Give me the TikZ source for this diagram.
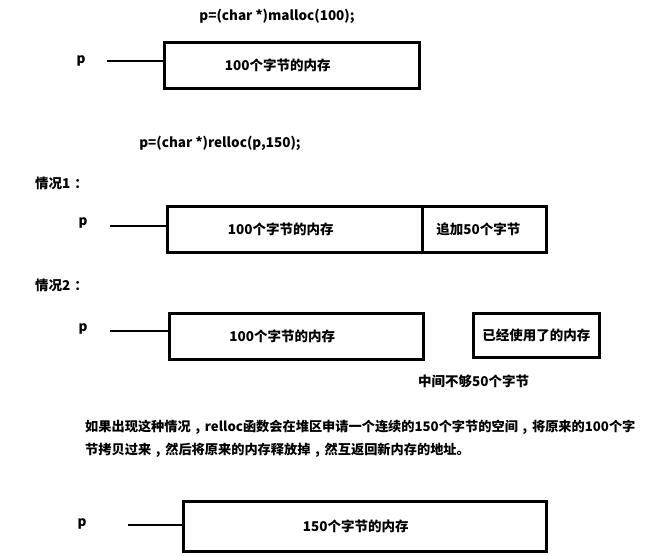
\documentclass[tikz,border=0pt]{standalone}
\usepackage{fontspec}
\setmainfont{Noto Sans CJK SC}
\newcommand{\cmm}{\hspace{0.36em},\hspace{0.36em}}
\begin{document}
\begin{tikzpicture}[x=1pt,y=-1pt,
  every node/.style={font=\fontsize{13.5}{23}\selectfont\bfseries, inner sep=0pt},
  mem/.style={draw, line width=2.6pt, minimum height=46pt, anchor=north west},
  ptr/.style={line width=2.4pt},
  lbl/.style={anchor=center}
]
\useasboundingbox[fill=white] (0,0) rectangle (648,556);

% malloc
\node[lbl] (t1) at (277,16) {p=(char *)malloc(100);};
\node[lbl] (p1) at (81,61) {p};
\node[mem, minimum width=255pt] (b1) at (163,41) {};
\node[lbl] (b1t) at ([xshift=-14pt]b1.center) {100个字节的内存};
\coordinate (s1) at (107,61);
\draw[ptr] (s1) -- (s1 -| b1.west);

% relloc
\node[lbl] (t2) at (220,143) {p=(char *)relloc(p,150);};
\node[anchor=west] (c1) at (35,183) {情况1\hspace{0.3em}：};
\node[lbl] (p2) at (83,223) {p};
\node[mem, minimum width=255pt] (b2) at (166,205) {};
\node[lbl] (b2t) at ([xshift=-14pt]b2.center) {100个字节的内存};
\node[mem, minimum width=124pt] (b2r) at (421,205) {};
\node[lbl] (b2rt) at ([xshift=-6pt]b2r.center) {追加50个字节};
\coordinate (s2) at (110,226);
\draw[ptr] (s2) -- (s2 -| b2.west);

% case 2
\node[anchor=west] (c2) at (35,285) {情况2\hspace{0.3em}：};
\node[lbl] (p3) at (83,329) {p};
\node[mem, minimum width=254pt] (b3) at (168,312) {};
\node[lbl] (b3t) at ([xshift=-14pt]b3.center) {100个字节的内存};
\node[mem, minimum width=126pt, minimum height=44pt] (b3r) at (472,312) {已经使用了的内存};
\coordinate (s3) at (110,331);
\draw[ptr] (s3) -- (s3 -| b3.west);
\node[anchor=west] (gap) at (418,381) {中间不够50个字节};

% explanation
\node[anchor=north west, align=left, font=\fontsize{13.2}{23}\selectfont\bfseries] (txt) at (85,420)
  {如果出现这种情况\cmm relloc函数会在堆区申请一个连续的150个字节的空间\cmm 将原来的100个字\\节拷贝过来\cmm 然后将原来的内存释放掉\cmm 然互返回新内存的地址。};

% final
\node[lbl] (p4) at (82,524) {p};
\node[mem, minimum width=363pt, minimum height=50pt] (b4) at (182,500) {};
\node[lbl] (b4t) at ([xshift=-9pt]b4.center) {150个字节的内存};
\coordinate (s4) at (128,525);
\draw[ptr] (s4) -- (s4 -| b4.west);
\end{tikzpicture}
\end{document}
